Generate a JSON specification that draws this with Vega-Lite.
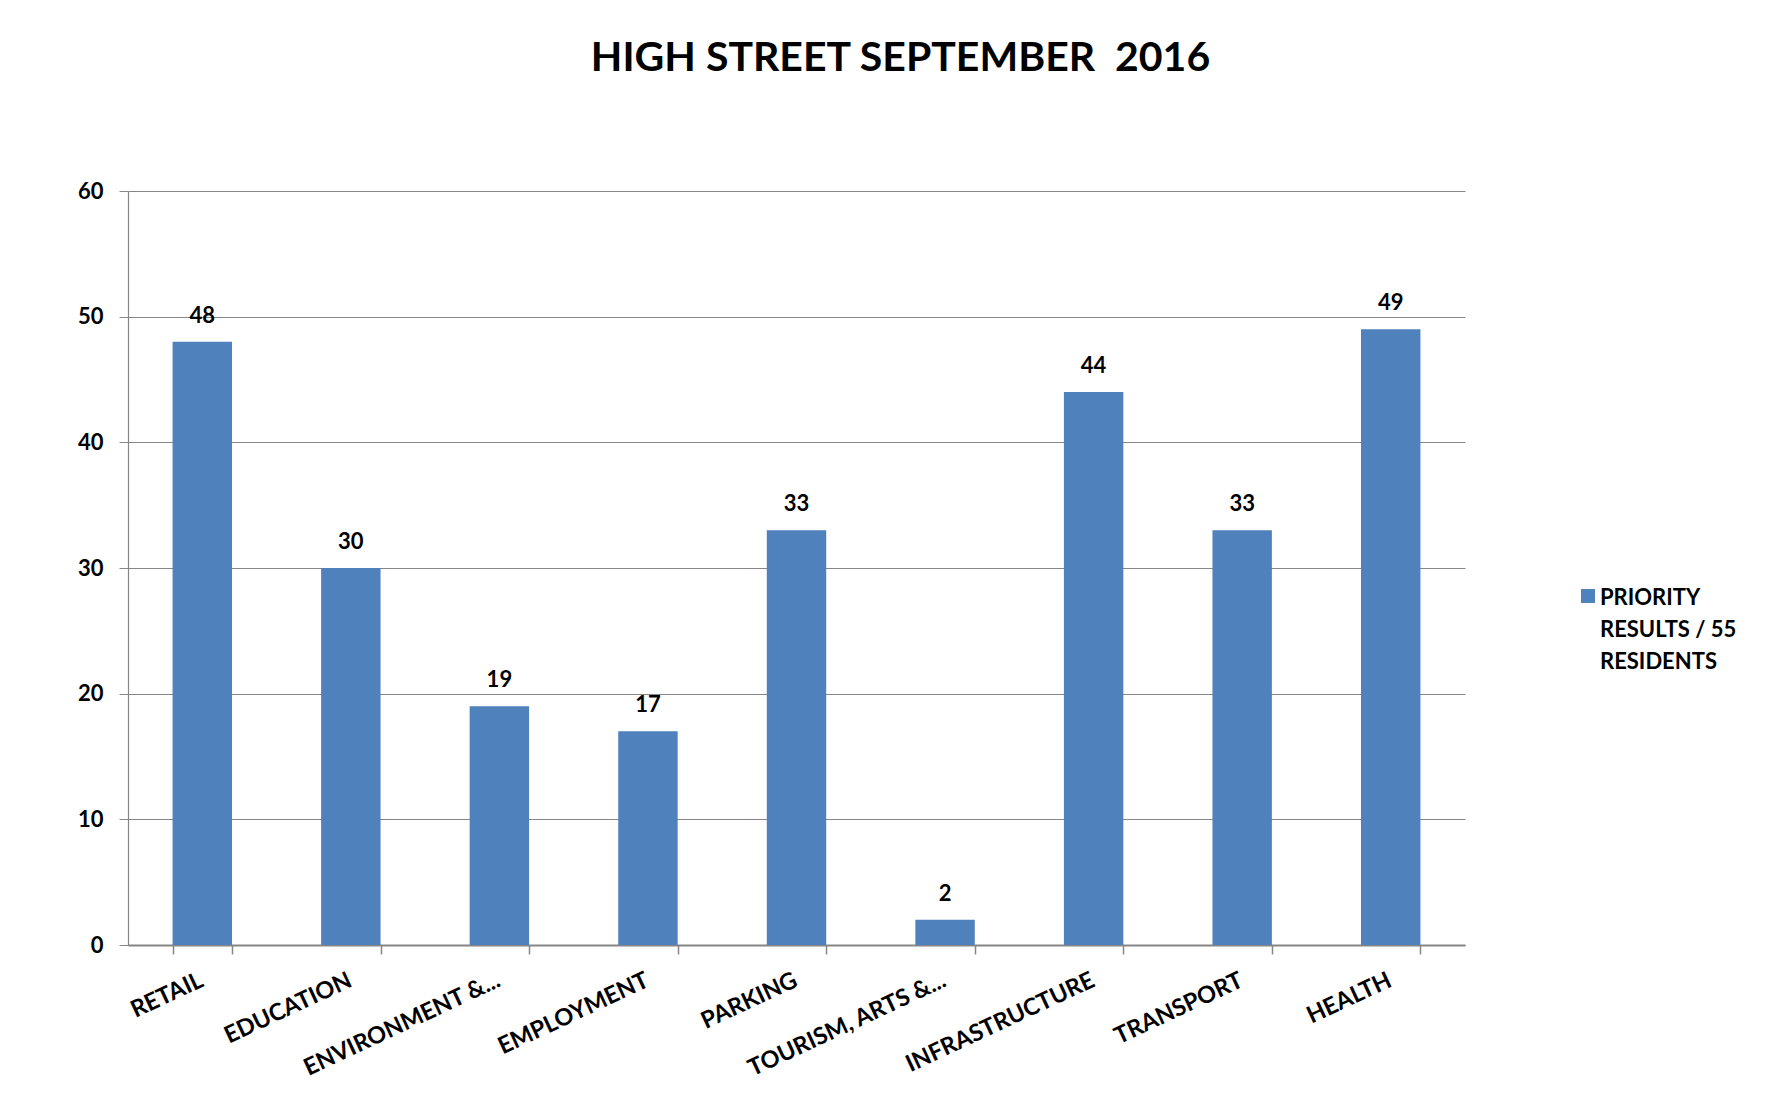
{
  "$schema": "https://vega.github.io/schema/vega-lite/v6.json",
  "width": 1337,
  "height": 754,
  "autosize": {"type": "none"},
  "padding": {"left": 128, "top": 191, "right": 318, "bottom": 151},
  "background": "white",
  "config": {"font": "Lato", "view": {"stroke": null}},
  "title": {
    "text": "HIGH STREET SEPTEMBER \u00a02016",
    "font": "Lato",
    "fontSize": 41,
    "fontWeight": "bold",
    "color": "black",
    "anchor": "middle",
    "frame": "group",
    "dx": 104,
    "baseline": "alphabetic",
    "offset": 68
  },
  "data": {
    "values": [
      {"category": "RETAIL", "value": 48, "series": "PRIORITY RESULTS / 55 RESIDENTS"},
      {"category": "EDUCATION", "value": 30, "series": "PRIORITY RESULTS / 55 RESIDENTS"},
      {"category": "ENVIRONMENT &...", "value": 19, "series": "PRIORITY RESULTS / 55 RESIDENTS"},
      {"category": "EMPLOYMENT", "value": 17, "series": "PRIORITY RESULTS / 55 RESIDENTS"},
      {"category": "PARKING", "value": 33, "series": "PRIORITY RESULTS / 55 RESIDENTS"},
      {"category": "TOURISM, ARTS &...", "value": 2, "series": "PRIORITY RESULTS / 55 RESIDENTS"},
      {"category": "INFRASTRUCTURE", "value": 44, "series": "PRIORITY RESULTS / 55 RESIDENTS"},
      {"category": "TRANSPORT", "value": 33, "series": "PRIORITY RESULTS / 55 RESIDENTS"},
      {"category": "HEALTH", "value": 49, "series": "PRIORITY RESULTS / 55 RESIDENTS"}
    ]
  },
  "encoding": {
    "x": {
      "field": "category",
      "type": "nominal",
      "sort": null,
      "scale": {"paddingInner": 0.6, "paddingOuter": 0.3},
      "axis": {
        "title": null,
        "labelAngle": -25,
        "labelAlign": "right",
        "labelBaseline": "top",
        "labelFont": "Lato",
        "labelFontSize": 23.5,
        "labelFontWeight": "bold",
        "labelColor": "black",
        "labelPadding": 14,
        "labelOffset": -6,
        "labelLimit": 400,
        "tickSize": 9,
        "tickBand": "extent",
        "tickColor": "#868686",
        "tickWidth": 1.5,
        "domainColor": "#868686",
        "domainWidth": 2
      }
    },
    "y": {
      "field": "value",
      "type": "quantitative",
      "scale": {"domain": [0, 60], "nice": false},
      "axis": {
        "title": null,
        "values": [0, 10, 20, 30, 40, 50, 60],
        "grid": true,
        "gridColor": "#868686",
        "gridWidth": 1.2,
        "domainColor": "#868686",
        "domainWidth": 1.2,
        "tickColor": "#868686",
        "tickSize": 9,
        "labelFont": "Lato",
        "labelFontSize": 22,
        "labelFontWeight": "bold",
        "labelColor": "black",
        "labelPadding": 16
      }
    }
  },
  "layer": [
    {
      "mark": {"type": "bar"},
      "encoding": {
        "color": {
          "field": "series",
          "type": "nominal",
          "scale": {"range": ["#4F81BD"]},
          "legend": {
            "title": null,
            "orient": "none",
            "legendX": 1449,
            "legendY": 386,
            "padding": 0,
            "symbolType": "square",
            "symbolSize": 196,
            "symbolStrokeWidth": 0,
            "labelFont": "Lato",
            "labelFontSize": 22,
            "labelFontWeight": "bold",
            "labelColor": "black",
            "labelOffset": 1,
            "labelLimit": 400,
            "labelBaseline": "top",
            "labelExpr": "['PRIORITY', 'RESULTS / 55', 'RESIDENTS']",
            "encode": {
              "labels": {"update": {"lineHeight": {"value": 32}}},
              "symbols": {"update": {"y": {"value": 19}}}
            }
          }
        }
      }
    },
    {
      "mark": {
        "type": "text",
        "baseline": "alphabetic",
        "dy": -19,
        "font": "Lato",
        "fontSize": 22,
        "fontWeight": "bold",
        "color": "black"
      },
      "encoding": {"text": {"field": "value", "type": "quantitative"}}
    }
  ]
}
